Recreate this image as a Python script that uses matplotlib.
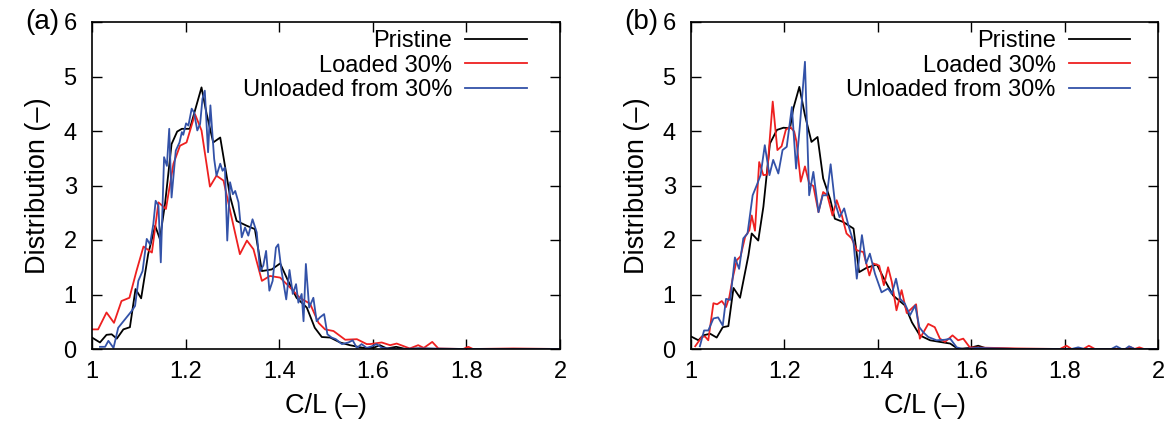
import matplotlib
matplotlib.use('Agg')
import matplotlib.pyplot as plt

plt.rcParams['font.family'] = ['Liberation Sans', 'DejaVu Sans']

# ---- panel (a) ----
a_pristine_x = [1.0, 1.017, 1.031, 1.042, 1.053, 1.067, 1.081, 1.093, 1.105, 1.12, 1.135, 1.145,
                1.156, 1.17, 1.182, 1.192, 1.209, 1.234, 1.245, 1.259, 1.274, 1.295, 1.309, 1.331,
                1.348, 1.363, 1.384, 1.402, 1.419, 1.437, 1.459, 1.476, 1.491, 1.509, 1.53, 1.551,
                1.58, 1.601, 1.615, 1.63, 1.65, 1.67, 1.7, 1.75, 1.8, 1.9, 2.0]
a_pristine_y = [0.21, 0.12, 0.26, 0.27, 0.19, 0.36, 0.40, 1.10, 0.93, 1.74, 2.26, 2.02,
                2.66, 3.76, 3.99, 4.04, 4.04, 4.80, 4.31, 3.79, 3.88, 2.80, 2.35, 2.26,
                2.20, 1.43, 1.46, 1.57, 1.25, 0.94, 0.76, 0.39, 0.22, 0.21, 0.12, 0.07,
                0.02, 0.02, 0.07, 0.01, 0.04, 0.0, 0.01, 0.0, 0.0, 0.0, 0.0]

a_loaded_x = [1.0, 1.013, 1.031, 1.047, 1.063, 1.08, 1.095, 1.11, 1.128, 1.142, 1.158, 1.174,
              1.188, 1.202, 1.22, 1.234, 1.252, 1.266, 1.281, 1.295, 1.316, 1.331, 1.345, 1.363,
              1.38, 1.402, 1.423, 1.444, 1.466, 1.484, 1.498, 1.516, 1.541, 1.566, 1.587, 1.594,
              1.619, 1.637, 1.651, 1.679, 1.697, 1.709, 1.727, 1.74, 1.793, 1.804, 1.814, 1.9, 2.0]
a_loaded_y = [0.36, 0.36, 0.67, 0.48, 0.88, 0.94, 1.43, 1.88, 1.77, 2.69, 2.57, 3.40,
              3.73, 3.79, 4.31, 4.01, 2.98, 3.18, 3.09, 2.54, 1.74, 1.99, 1.83, 1.25,
              1.34, 1.31, 1.13, 0.94, 0.83, 0.48, 0.36, 0.33, 0.17, 0.18, 0.09, 0.09,
              0.12, 0.07, 0.10, 0.01, 0.07, 0.02, 0.13, 0.01, 0.0, 0.04, 0.0, 0.01, 0.0]

a_unloaded_x = [1.017, 1.028, 1.035, 1.046, 1.056, 1.071, 1.085, 1.092, 1.099, 1.108, 1.117,
                1.124, 1.131, 1.136, 1.142, 1.147, 1.154, 1.16, 1.165, 1.17, 1.179, 1.187,
                1.192, 1.195, 1.201, 1.206, 1.213, 1.218, 1.225, 1.231, 1.236, 1.241, 1.248,
                1.253, 1.261, 1.266, 1.274, 1.279, 1.284, 1.289, 1.295, 1.301, 1.306, 1.313,
                1.32, 1.327, 1.334, 1.343, 1.352, 1.359, 1.366, 1.372, 1.379, 1.386, 1.393,
                1.398, 1.405, 1.415, 1.422, 1.429, 1.436, 1.441, 1.448, 1.452, 1.457, 1.464,
                1.473, 1.48, 1.487, 1.496, 1.503, 1.512, 1.521, 1.534, 1.548, 1.557, 1.566,
                1.576, 1.587, 1.598, 1.608, 1.62, 1.65, 1.7, 1.8, 2.0]
a_unloaded_y = [0.04, 0.04, 0.15, 0.02, 0.39, 0.55, 0.70, 0.79, 1.25, 1.43, 2.02,
                1.92, 2.29, 2.72, 2.63, 1.59, 3.52, 3.36, 4.04, 2.78, 3.64, 3.79,
                3.98, 3.93, 4.14, 4.10, 4.41, 4.34, 4.01, 4.13, 4.59, 4.74, 3.61,
                4.47, 3.49, 3.18, 3.40, 3.27, 3.33, 1.99, 3.06, 2.84, 2.90, 2.69,
                2.05, 2.23, 2.08, 2.38, 2.14, 1.43, 1.53, 1.80, 1.07, 1.25, 1.86,
                1.92, 1.43, 0.91, 1.45, 1.01, 1.19, 0.85, 1.01, 0.51, 1.56, 0.76,
                0.94, 0.51, 0.58, 0.64, 0.27, 0.21, 0.18, 0.09, 0.12, 0.16, 0.02,
                0.09, 0.02, 0.05, 0.09, 0.02, 0.0, 0.01, 0.0, 0.0]

# ---- panel (b) ----
b_pristine_x = [1.0, 1.016, 1.026, 1.041, 1.055, 1.068, 1.08, 1.091, 1.105, 1.123, 1.13, 1.144,
                1.155, 1.169, 1.184, 1.198, 1.212, 1.219, 1.232, 1.244, 1.258, 1.271, 1.283,
                1.298, 1.308, 1.326, 1.348, 1.36, 1.376, 1.398, 1.415, 1.433, 1.458, 1.473,
                1.49, 1.512, 1.533, 1.555, 1.572, 1.597, 1.615, 1.633, 1.7, 1.8, 1.9, 2.0]
b_pristine_y = [0.23, 0.16, 0.25, 0.28, 0.21, 0.40, 0.42, 1.12, 0.94, 1.72, 2.12, 1.99,
                2.61, 3.77, 4.02, 4.06, 4.05, 4.41, 4.81, 4.29, 3.80, 3.89, 3.13,
                2.75, 2.39, 2.33, 2.21, 1.41, 1.49, 1.55, 1.26, 0.98, 0.80, 0.49,
                0.25, 0.16, 0.13, 0.10, 0.0, 0.02, 0.06, 0.01, 0.0, 0.0, 0.0, 0.0]

b_loaded_x = [1.009, 1.023, 1.03, 1.037, 1.048, 1.056, 1.066, 1.075, 1.082, 1.089, 1.098, 1.106,
              1.116, 1.125, 1.13, 1.137, 1.146, 1.155, 1.163, 1.169, 1.175, 1.185, 1.194, 1.203,
              1.212, 1.221, 1.226, 1.235, 1.244, 1.253, 1.262, 1.273, 1.283, 1.292, 1.303,
              1.312, 1.323, 1.333, 1.344, 1.355, 1.369, 1.382, 1.39, 1.403, 1.413, 1.422,
              1.43, 1.44, 1.451, 1.462, 1.482, 1.49, 1.508, 1.522, 1.533, 1.544, 1.56, 1.572,
              1.583, 1.597, 1.7, 1.79, 1.804, 1.815, 1.84, 1.852, 1.865, 1.93, 1.94, 1.95,
              1.96, 1.97, 2.0]
b_loaded_y = [0.05, 0.22, 0.23, 0.16, 0.84, 0.82, 0.88, 0.77, 0.95, 1.29, 1.63, 1.70,
              2.06, 2.18, 2.45, 2.17, 3.43, 3.19, 3.20, 3.89, 4.54, 3.65, 3.72, 4.02,
              4.08, 3.99, 3.80, 3.07, 3.35, 3.04, 2.99, 2.51, 2.88, 2.82, 2.45,
              2.73, 2.45, 2.12, 2.03, 1.81, 1.78, 1.35, 1.57, 1.53, 1.17, 1.50,
              1.23, 0.71, 1.08, 0.66, 0.82, 0.19, 0.46, 0.40, 0.19, 0.13, 0.25, 0.16,
              0.19, 0.03, 0.01, 0.0, 0.06, 0.0, 0.0, 0.06, 0.0, 0.0, 0.04, 0.0,
              0.03, 0.0, 0.0]

b_unloaded_x = [1.019, 1.028, 1.037, 1.048, 1.058, 1.068, 1.075, 1.084, 1.094, 1.103, 1.112,
                1.121, 1.132, 1.141, 1.149, 1.158, 1.168, 1.176, 1.187, 1.196, 1.205, 1.216,
                1.225, 1.233, 1.244, 1.253, 1.262, 1.273, 1.282, 1.291, 1.299, 1.308, 1.318,
                1.328, 1.337, 1.348, 1.355, 1.366, 1.375, 1.383, 1.394, 1.408, 1.422, 1.43,
                1.439, 1.448, 1.458, 1.469, 1.48, 1.489, 1.497, 1.508, 1.526, 1.544, 1.555,
                1.569, 1.583, 1.612, 1.7, 1.815, 1.829, 1.843, 1.9, 1.911, 1.922, 1.93,
                1.938, 1.95, 2.0]
b_unloaded_y = [0.05, 0.34, 0.34, 0.56, 0.58, 0.43, 0.92, 0.90, 1.68, 1.47, 2.03,
                2.12, 2.82, 3.01, 3.19, 3.74, 3.19, 3.47, 3.22, 3.65, 3.71, 4.44,
                3.31, 4.08, 5.27, 2.82, 3.25, 2.51, 2.82, 2.82, 3.39, 2.70, 2.42,
                2.58, 2.27, 1.96, 1.29, 2.09, 1.57, 1.75, 1.38, 1.04, 1.11, 1.01,
                1.29, 0.92, 0.83, 0.62, 0.80, 0.40, 0.31, 0.22, 0.16, 0.17, 0.19,
                0.03, 0.0, 0.02, 0.0, 0.0, 0.03, 0.0, 0.0, 0.05, 0.0, 0.0,
                0.05, 0.0, 0.0]

labels = ['Pristine', 'Loaded 30%', 'Unloaded from 30%']
colors = ['black', '#ee2020', '#3352a8']
x_ticks = [1, 1.2, 1.4, 1.6, 1.8, 2]
x_tick_labels = ['1', '1.2', '1.4', '1.6', '1.8', '2']
y_ticks = [0, 1, 2, 3, 4, 5, 6]

fig = plt.figure(figsize=(11.73, 4.29), dpi=100)
ax_a = fig.add_axes([92 / 1173, 80 / 429, 468 / 1173, 327 / 429])
ax_b = fig.add_axes([691 / 1173, 80 / 429, 467 / 1173, 327 / 429])

panels = [
    (ax_a, '(a)', [(a_pristine_x, a_pristine_y), (a_loaded_x, a_loaded_y), (a_unloaded_x, a_unloaded_y)], 0.929),
    (ax_b, '(b)', [(b_pristine_x, b_pristine_y), (b_loaded_x, b_loaded_y), (b_unloaded_x, b_unloaded_y)], 0.94),
]

for ax, tag, series, leg_x in panels:
    for (xs, ys), lab, col in zip(series, labels, colors):
        ax.plot(xs, ys, color=col, lw=1.3, label=lab)
    ax.set_xlim(1, 2)
    ax.set_ylim(0, 6)
    ax.set_xticks(x_ticks)
    ax.set_xticklabels(x_tick_labels)
    ax.set_yticks(y_ticks)
    ax.tick_params(direction='in', top=True, right=True, length=7, width=1,
                   labelsize=17)
    ax.tick_params(axis='x', pad=9)
    ax.tick_params(axis='y', pad=11)
    for sp in ax.spines.values():
        sp.set_linewidth(1.2)
    ax.set_xlabel('C/L (\u2013)', fontsize=19.5, labelpad=7)
    ax.set_ylabel('Distribution (\u2013)', fontsize=19.5, labelpad=9)
    ax.text(-0.07, 1.0, tag, transform=ax.transAxes, fontsize=20,
            ha='right', va='center')
    ax.legend(loc='upper right', bbox_to_anchor=(leg_x, 0.975), frameon=False,
              markerfirst=False, fontsize=17, handlelength=2.6, handletextpad=0.55,
              labelspacing=0.1, borderaxespad=0, borderpad=0)

fig.savefig('out.png', dpi=100)
